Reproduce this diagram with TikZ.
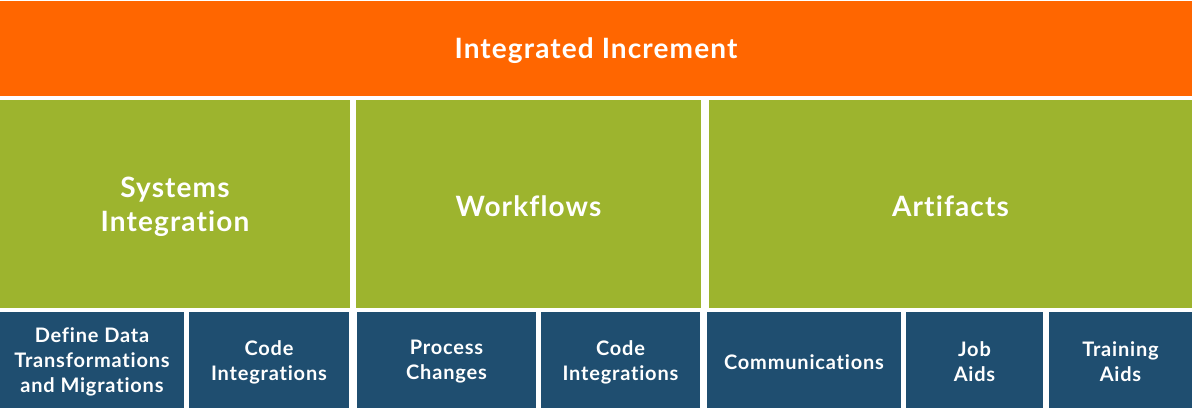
\documentclass[tikz,border=0pt]{standalone}
\usepackage{fontspec}
\setmainfont{Lato}[LetterSpace=4, Ligatures=NoCommon]
\definecolor{incorange}{HTML}{FF6600}
\definecolor{areagreen}{HTML}{9DB42E}
\definecolor{itemblue}{HTML}{1F4E70}
\begin{document}
\begin{tikzpicture}[x=1pt,y=-1pt,
  block/.style={rectangle, inner sep=0pt, outer sep=0pt},
  toprow/.style={block, fill=incorange, minimum height=95pt},
  arearow/.style={block, fill=areagreen, minimum height=208pt},
  itemrow/.style={block, fill=itemblue, minimum height=96pt},
  caption/.style={inner sep=0pt, text=white, align=center},
  bigcap/.style={caption, yshift=-2.5pt, font=\fontsize{28}{34}\selectfont\bfseries},
  smallcap/.style={caption, yshift=-2pt, font=\fontsize{20}{25}\selectfont\bfseries}]
\useasboundingbox[fill=white] (0,0) rectangle (1192,408);
% top band
\node[toprow, minimum width=1192pt] (inc) at (596,48.5) {};
\node[bigcap] (inc-t) at (inc) {Integrated Increment};
% middle areas
\node[arearow, minimum width=350pt] (sys) at (175,204) {};
\node[arearow, minimum width=345pt] (wf) at (528.5,204) {};
\node[arearow, minimum width=483pt] (art) at (950.5,204) {};
\node[bigcap] (sys-t) at (sys) {Systems\\Integration};
\node[bigcap] (wf-t) at (wf) {Workflows};
\node[bigcap] (art-t) at (art) {Artifacts};
% bottom items
\node[itemrow, minimum width=184pt] (d1) at (92,360) {};
\node[itemrow, minimum width=160pt] (d2) at (269,360) {};
\node[itemrow, minimum width=179pt] (d3) at (446.5,360) {};
\node[itemrow, minimum width=159pt] (d4) at (620.5,360) {};
\node[itemrow, minimum width=194pt] (d5) at (804,360) {};
\node[itemrow, minimum width=137pt] (d6) at (974.5,360) {};
\node[itemrow, minimum width=143pt] (d7) at (1120.5,360) {};
\node[smallcap] (d1-t) at (d1) {Define Data\\Transformations\\and Migrations};
\node[smallcap] (d2-t) at (d2) {Code\\Integrations};
\node[smallcap] (d3-t) at (d3) {Process\\Changes};
\node[smallcap] (d4-t) at (d4) {Code\\Integrations};
\node[smallcap] (d5-t) at (d5) {Communications};
\node[smallcap] (d6-t) at (d6) {Job\\Aids};
\node[smallcap] (d7-t) at (d7) {Training\\Aids};
\end{tikzpicture}
\end{document}
